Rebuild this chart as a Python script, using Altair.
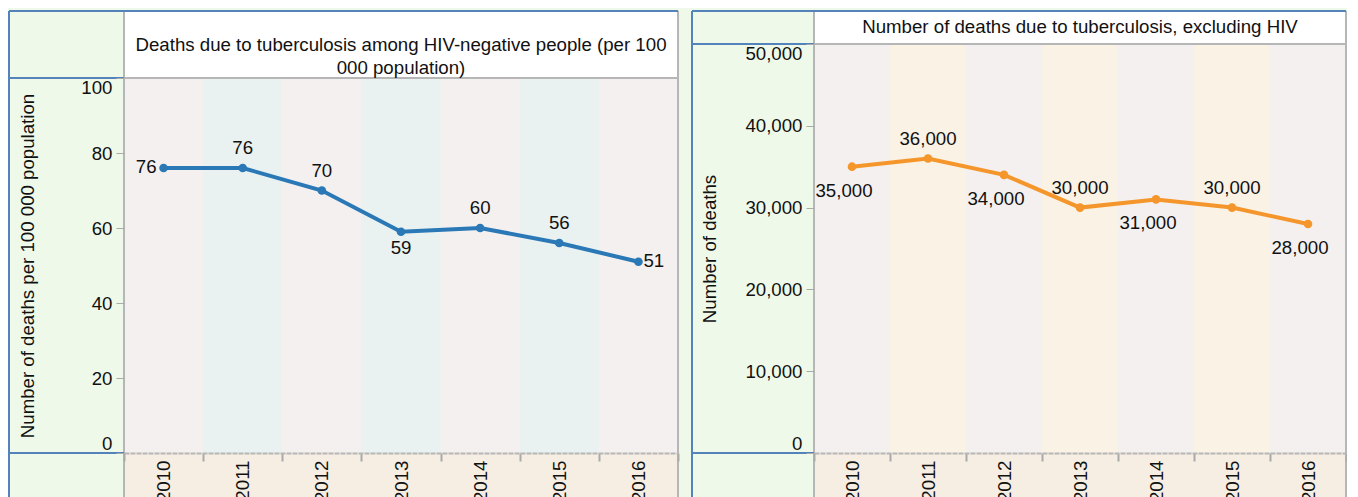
import altair as alt
import pandas as pd

# ---- data ----
years = [2010, 2011, 2012, 2013, 2014, 2015, 2016]
rate_values = [76, 76, 70, 59, 60, 56, 51]
death_values = [35000, 36000, 34000, 30000, 31000, 30000, 28000]

left_title = ["Deaths due to tuberculosis among HIV-negative people (per 100", "000 population)"]
right_title = ["Number of deaths due to tuberculosis, excluding HIV"]
left_ytitle = "Number of deaths per 100 000 population"
right_ytitle = "Number of deaths"
left_ticks = [0, 20, 40, 60, 80, 100]
right_ticks = [0, 10000, 20000, 30000, 40000, 50000]

# label placement groups
left_places = {"above": [2011, 2012, 2014, 2015], "below": [2013], "left": [2010], "right": [2016]}
right_places = {"above": [2011, 2013, 2015], "below": [2010, 2012, 2014, 2016], "left": [], "right": []}

FONT = "Liberation Sans"
FS = 18.67
GREEN = "#eff9ea"
BLUE_BORDER = "#5482bb"
GRAY = "#b6b6b6"
PLOT_BG = "#f4f0ef"
STRIP = "#f6eee3"
TXT = "#111111"
HF = 442  # full panel height (title box + plot area)


def panel(values, fmt, ymax, yticks, ytitle, title_lines, title_y, W, L, T,
          color, stripe, title_x, places, below_dx, below_dy):
    df = pd.DataFrame({"year": years, "value": values})
    one = pd.DataFrame({"k": [0]})
    B = 90

    xenc = alt.X(
        "year:O",
        scale=alt.Scale(type="band", paddingInner=0, paddingOuter=0),
        axis=alt.Axis(
            title=None, labelAngle=-90, labelAlign="right", labelBaseline="middle",
            tickBand="extent", labelFont=FONT, labelFontSize=FS, labelColor=TXT,
            labelPadding=-1, tickColor="#aaaaaa", tickWidth=2, tickSize=8,
            domainColor=GRAY, domainWidth=2, domainDash=[5, 1], zindex=1,
        ),
    )
    yenc = alt.Y(
        "value:Q",
        scale=alt.Scale(domain=[0, ymax], nice=False, range=[HF, T]),
        axis=alt.Axis(
            values=yticks, format=fmt, title=ytitle, titleX=title_x, titleY=(T + HF) / 2,
            titleAngle=270, titleBaseline="middle", titleAlign="center",
            titleFont=FONT, titleFontSize=FS, titleFontWeight="normal", titleColor=TXT,
            labelFont=FONT, labelFontSize=FS, labelColor=TXT, labelPadding=4,
            labelFlush=True, tickColor="#aaaaaa", tickSize=8, domain=False,
            grid=False, zindex=1,
        ),
    )

    def box(x, x2, y, y2, fill):
        return alt.Chart(one).mark_rect(fill=fill).encode(
            x=alt.value(x), x2=alt.value(x2), y=alt.value(y), y2=alt.value(y2))

    def hline(x, x2, y, c):
        return alt.Chart(one).mark_rule(color=c, strokeWidth=2).encode(
            x=alt.value(x), x2=alt.value(x2), y=alt.value(y))

    def vline(x, y, y2, c):
        return alt.Chart(one).mark_rule(color=c, strokeWidth=2).encode(
            x=alt.value(x), y=alt.value(y), y2=alt.value(y2))

    base = alt.Chart(df)

    stripes = base.mark_rect().encode(
        x=xenc,
        y=alt.value(T), y2=alt.value(HF),
        fill=alt.condition("datum.year % 2 == 1", alt.value(stripe), alt.value(PLOT_BG)),
    )
    line = base.mark_line(color=color, strokeWidth=4).encode(x=xenc, y=yenc)
    pts = base.mark_point(filled=True, opacity=1, size=75, color=color).encode(x=xenc, y=yenc)

    labels = []
    specs = {
        "above": dict(align="center", baseline="middle", dy=-20, dx=0),
        "below": dict(align="center", baseline="middle", dy=below_dy, dx=below_dx),
        "left": dict(align="right", baseline="middle", dx=-7, dy=-1),
        "right": dict(align="left", baseline="middle", dx=5, dy=-1),
    }
    for key, yrs in places.items():
        if not yrs:
            continue
        labels.append(
            base.transform_filter(alt.FieldOneOfPredicate(field="year", oneOf=yrs))
            .mark_text(font=FONT, fontSize=FS, color=TXT, **specs[key])
            .encode(x=xenc, y=yenc, text=alt.Text("value:Q", format=fmt))
        )

    title_text = alt.Chart(one).mark_text(
        font=FONT, fontSize=FS, color=TXT, align="center", baseline="middle", lineHeight=23
    ).encode(x=alt.value(W / 2), y=alt.value(title_y), text=alt.value(title_lines))

    layers = [
        box(0, W, 0, T, "#ffffff"),
        box(0, W, HF, HF + B, STRIP),
        stripes,
        hline(0, W, T, GRAY),
        vline(0, 0, HF + B, GRAY),
        vline(W, 0, HF + B, GRAY),
        hline(-L, W, 0, BLUE_BORDER),
        vline(-L, 0, HF + B, BLUE_BORDER),
        hline(-L, 0, T, BLUE_BORDER),
        hline(-L, 0, HF, BLUE_BORDER),
        line,
        pts,
        *labels,
        title_text,
    ]
    return alt.layer(*layers).properties(width=W, height=HF)


left = panel(rate_values, "d", 100, left_ticks, left_ytitle, left_title, 34,
             554, 115, 67, "#2a78b6", "#e9f2f0", -97, left_places, 0, 16)
right = panel(death_values, ",d", 50000, right_ticks, right_ytitle, right_title, 16,
              532, 122, 33, "#f5962c", "#faf2e5", -105, right_places, -8, 24)

chart = (
    alt.hconcat(left, right, spacing=12)
    .properties(padding={"left": 0, "top": 2, "right": 0, "bottom": 0}, background=GREEN)
    .configure_view(stroke=None)
)

chart.save("out.html", embed_options={"renderer": "svg", "actions": False})
